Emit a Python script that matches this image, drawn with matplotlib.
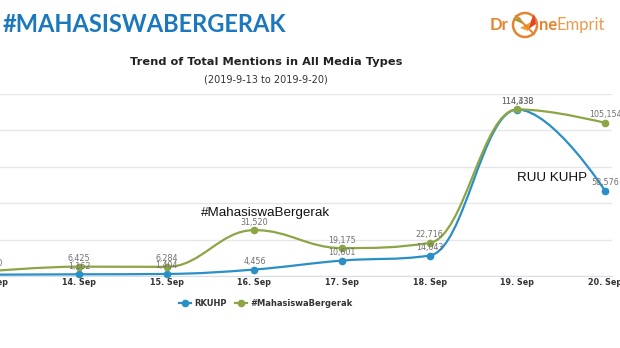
from matplotlib import pyplot as plt
from matplotlib.path import Path
from matplotlib.patches import PathPatch, Circle, Polygon
from matplotlib.lines import Line2D
import numpy as np

days = ['13. Sep', '14. Sep', '15. Sep', '16. Sep', '17. Sep', '18. Sep', '19. Sep', '20. Sep']
rkuhp = [900, 1162, 1404, 4456, 10601, 14043, 114338, 58576]
mahasiswa = [3400, 6425, 6284, 31520, 19175, 22716, 114438, 105154]

BLUE = '#2a8fc6'
GREEN = '#8ca545'
ORANGE = '#e5832e'


def splinePath(xs, ys, smoothing=1.5):
    # highcharts-style spline: cubic bezier segments through every point
    denom = smoothing + 1
    n = len(xs)
    left = [None] * n
    right = [None] * n
    for i in range(n):
        x, y = xs[i], ys[i]
        if i == 0 or i == n - 1:
            left[i] = (x, y)
            right[i] = (x, y)
            continue
        lx, ly = xs[i - 1], ys[i - 1]
        nx, ny = xs[i + 1], ys[i + 1]
        lcx = (smoothing * x + lx) / denom
        lcy = (smoothing * y + ly) / denom
        rcx = (smoothing * x + nx) / denom
        rcy = (smoothing * y + ny) / denom
        if rcx != lcx:
            corr = ((rcy - lcy) * (rcx - x)) / (rcx - lcx) + y - rcy
            lcy += corr
            rcy += corr
        if lcy > ly and lcy > y:
            lcy = max(ly, y)
            rcy = 2 * y - lcy
        elif lcy < ly and lcy < y:
            lcy = min(ly, y)
            rcy = 2 * y - lcy
        if rcy > ny and rcy > y:
            rcy = max(ny, y)
            lcy = 2 * y - rcy
        elif rcy < ny and rcy < y:
            rcy = min(ny, y)
            lcy = 2 * y - rcy
        left[i] = (lcx, lcy)
        right[i] = (rcx, rcy)
    verts = [(xs[0], ys[0])]
    codes = [Path.MOVETO]
    for i in range(1, n):
        verts += [right[i - 1], left[i], (xs[i], ys[i])]
        codes += [Path.CURVE4] * 3
    return Path(verts, codes)


fig = plt.figure(figsize=(6.2, 3.48), dpi=100)
ax = fig.add_axes([0, 72 / 348, 612 / 620, 182 / 348])

x = np.arange(len(days))
for vals, col, z in [(rkuhp, BLUE, 3), (mahasiswa, GREEN, 4)]:
    ax.add_patch(PathPatch(splinePath(x, vals), facecolor='none', edgecolor=col,
                           lw=1.6, zorder=z, clip_on=False))
    ax.plot(x, vals, 'o', color=col, ms=4.5, zorder=z + 2, clip_on=False)
    for xi, v in zip(x, vals):
        ax.annotate(f'{v:,}', (xi, v), xytext=(0, 2.5), textcoords='offset points',
                    ha='center', va='bottom', fontsize=5.8, color='#707070',
                    zorder=8, annotation_clip=False)

# category labels as plain texts so the half-hidden first one still shows
for xi, d in zip(x, days):
    ax.annotate(d, (xi, 0), xycoords=('data', 'axes fraction'), xytext=(0, -5),
                textcoords='offset points', ha='center', va='center', fontsize=5.8,
                color='#333333', fontweight='bold', annotation_clip=False)

ax.set_yticks(np.arange(0, 125001, 25000))
ax.set_xticks([])
ax.set_xlim(0.097, 7.08)
ax.set_ylim(0, 125000)
ax.tick_params(axis='y', length=0, labelleft=False)
ax.grid(axis='y', color='#e6e6e6', lw=1)
ax.set_axisbelow(True)
for s in ['top', 'right', 'left']:
    ax.spines[s].set_visible(False)
ax.spines['bottom'].set_color('#d8dde6')
ax.patch.set_alpha(0)

# headings
fig.text(3 / 620, 1 - 24 / 348, '#MAHASISWABERGERAK', fontsize=17, fontweight='bold',
         color='#1c78bd', family='Lato', va='center', ha='left')
fig.text(266 / 620, 1 - 62 / 348, 'Trend of Total Mentions in All Media Types',
         fontsize=8.2, fontweight='bold', color='#222222', ha='center', va='center')
fig.text(266 / 620, 1 - 80 / 348, '(2019-9-13 to 2019-9-20)', fontsize=7,
         color='#333333', ha='center', va='center')

# logo, drawn in inches from the lower-left corner
px = fig.dpi_scale_trans
def P(x0, y0):
    return (x0 / 100, (348 - y0) / 100)

fig.text(490 / 620, 1 - 25 / 348, 'Dr', fontsize=12, fontweight='bold', color=ORANGE,
         family='Lato', va='center', ha='left')
fig.patches.append(Circle(P(525, 25), 0.12, transform=px, fill=False, ec=ORANGE, lw=1.8))
fig.patches.append(Polygon([P(527, 30), P(534, 14), P(536, 24)], closed=True,
                           transform=px, fc='#e0442a', ec='none'))
fig.patches.append(Polygon([P(520, 28), P(528, 31), P(531, 22)], closed=True,
                           transform=px, fc='#f0a030', ec='none'))
fig.patches.append(Polygon([P(514, 20), P(520, 17), P(523, 24)], closed=True,
                           transform=px, fc='#7aa83a', ec='none'))
fig.add_artist(Line2D([P(516, 16)[0], P(534, 34)[0]], [P(516, 16)[1], P(534, 34)[1]],
                      transform=px, color=ORANGE, lw=1.4))
fig.text(539 / 620, 1 - 25 / 348, 'ne', fontsize=12, fontweight='bold', color=ORANGE,
         family='Lato', va='center', ha='left')
fig.text(557 / 620, 1 - 25 / 348, 'Emprit', fontsize=12, color='#eb9a4e',
         family='Lato', va='center', ha='left')

# callouts
fig.text(201 / 620, 1 - 213 / 348, '#MahasiswaBergerak', fontsize=9.6,
         family='Liberation Sans', color='#111111', va='center', ha='left')
fig.text(517 / 620, 1 - 178 / 348, 'RUU KUHP', fontsize=9.7,
         family='Liberation Sans', color='#111111', va='center', ha='left')

# legend
h1 = Line2D([], [], color=BLUE, marker='o', ms=4.5, lw=1.6)
h2 = Line2D([], [], color=GREEN, marker='o', ms=4.5, lw=1.6)
fig.legend([h1, h2], ['RKUHP', '#MahasiswaBergerak'], loc='center',
           bbox_to_anchor=(266 / 620, 1 - 303 / 348), ncol=2, frameon=False,
           prop={'size': 6, 'weight': 'bold'}, handlelength=1.4, handletextpad=0.4,
           columnspacing=1.0, labelcolor='#333333')

fig.savefig('out.png', dpi=100)
